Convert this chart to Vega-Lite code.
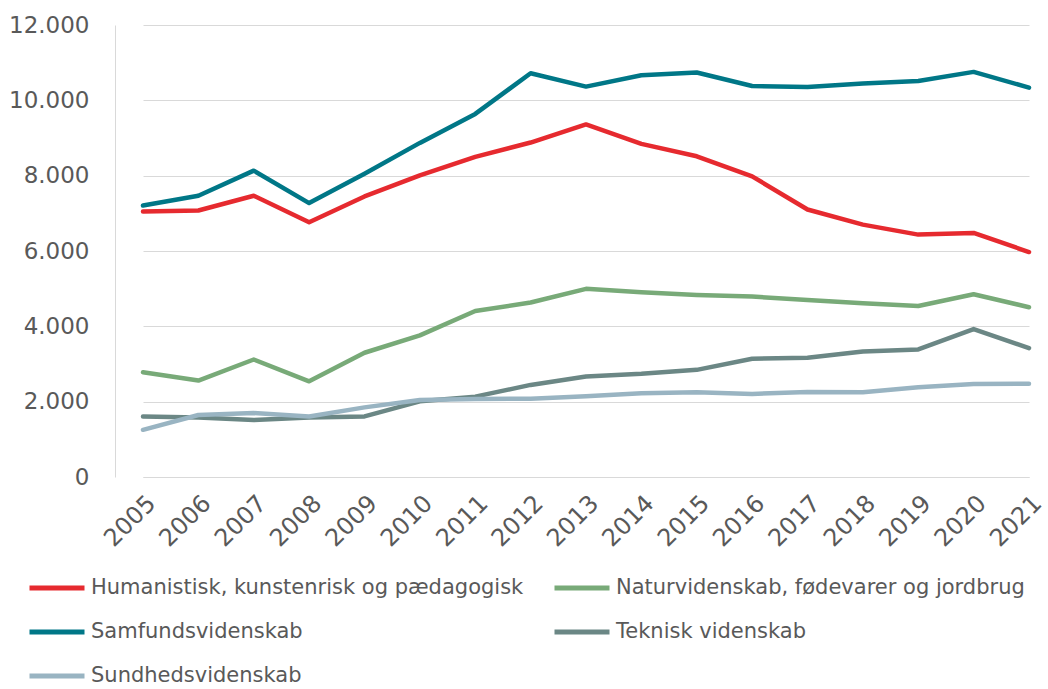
{
  "$schema": "https://vega.github.io/schema/vega-lite/v6.json",
  "width": 933,
  "height": 452,
  "autosize": {"type": "none"},
  "padding": {"left": 115, "top": 25, "right": 0, "bottom": 212},
  "background": "white",
  "datasets": {
    "d": [
      {"year": "2005", "felt": "Humanistisk, kunstenrisk og pædagogisk", "antal": 7048},
      {"year": "2006", "felt": "Humanistisk, kunstenrisk og pædagogisk", "antal": 7075},
      {"year": "2007", "felt": "Humanistisk, kunstenrisk og pædagogisk", "antal": 7467},
      {"year": "2008", "felt": "Humanistisk, kunstenrisk og pædagogisk", "antal": 6765},
      {"year": "2009", "felt": "Humanistisk, kunstenrisk og pædagogisk", "antal": 7448},
      {"year": "2010", "felt": "Humanistisk, kunstenrisk og pædagogisk", "antal": 8008},
      {"year": "2011", "felt": "Humanistisk, kunstenrisk og pædagogisk", "antal": 8498},
      {"year": "2012", "felt": "Humanistisk, kunstenrisk og pædagogisk", "antal": 8880},
      {"year": "2013", "felt": "Humanistisk, kunstenrisk og pædagogisk", "antal": 9360},
      {"year": "2014", "felt": "Humanistisk, kunstenrisk og pædagogisk", "antal": 8845},
      {"year": "2015", "felt": "Humanistisk, kunstenrisk og pædagogisk", "antal": 8515},
      {"year": "2016", "felt": "Humanistisk, kunstenrisk og pædagogisk", "antal": 7982},
      {"year": "2017", "felt": "Humanistisk, kunstenrisk og pædagogisk", "antal": 7101},
      {"year": "2018", "felt": "Humanistisk, kunstenrisk og pædagogisk", "antal": 6701},
      {"year": "2019", "felt": "Humanistisk, kunstenrisk og pædagogisk", "antal": 6435},
      {"year": "2020", "felt": "Humanistisk, kunstenrisk og pædagogisk", "antal": 6480},
      {"year": "2021", "felt": "Humanistisk, kunstenrisk og pædagogisk", "antal": 5973},
      {"year": "2005", "felt": "Naturvidenskab, fødevarer og jordbrug", "antal": 2781},
      {"year": "2006", "felt": "Naturvidenskab, fødevarer og jordbrug", "antal": 2560},
      {"year": "2007", "felt": "Naturvidenskab, fødevarer og jordbrug", "antal": 3120},
      {"year": "2008", "felt": "Naturvidenskab, fødevarer og jordbrug", "antal": 2541},
      {"year": "2009", "felt": "Naturvidenskab, fødevarer og jordbrug", "antal": 3299},
      {"year": "2010", "felt": "Naturvidenskab, fødevarer og jordbrug", "antal": 3760},
      {"year": "2011", "felt": "Naturvidenskab, fødevarer og jordbrug", "antal": 4408},
      {"year": "2012", "felt": "Naturvidenskab, fødevarer og jordbrug", "antal": 4632},
      {"year": "2013", "felt": "Naturvidenskab, fødevarer og jordbrug", "antal": 4995},
      {"year": "2014", "felt": "Naturvidenskab, fødevarer og jordbrug", "antal": 4907},
      {"year": "2015", "felt": "Naturvidenskab, fødevarer og jordbrug", "antal": 4835},
      {"year": "2016", "felt": "Naturvidenskab, fødevarer og jordbrug", "antal": 4790},
      {"year": "2017", "felt": "Naturvidenskab, fødevarer og jordbrug", "antal": 4700},
      {"year": "2018", "felt": "Naturvidenskab, fødevarer og jordbrug", "antal": 4613},
      {"year": "2019", "felt": "Naturvidenskab, fødevarer og jordbrug", "antal": 4541},
      {"year": "2020", "felt": "Naturvidenskab, fødevarer og jordbrug", "antal": 4853},
      {"year": "2021", "felt": "Naturvidenskab, fødevarer og jordbrug", "antal": 4507},
      {"year": "2005", "felt": "Samfundsvidenskab", "antal": 7208},
      {"year": "2006", "felt": "Samfundsvidenskab", "antal": 7467},
      {"year": "2007", "felt": "Samfundsvidenskab", "antal": 8133},
      {"year": "2008", "felt": "Samfundsvidenskab", "antal": 7272},
      {"year": "2009", "felt": "Samfundsvidenskab", "antal": 8053},
      {"year": "2010", "felt": "Samfundsvidenskab", "antal": 8870},
      {"year": "2011", "felt": "Samfundsvidenskab", "antal": 9640},
      {"year": "2012", "felt": "Samfundsvidenskab", "antal": 10720},
      {"year": "2013", "felt": "Samfundsvidenskab", "antal": 10365},
      {"year": "2014", "felt": "Samfundsvidenskab", "antal": 10667},
      {"year": "2015", "felt": "Samfundsvidenskab", "antal": 10739},
      {"year": "2016", "felt": "Samfundsvidenskab", "antal": 10381},
      {"year": "2017", "felt": "Samfundsvidenskab", "antal": 10355},
      {"year": "2018", "felt": "Samfundsvidenskab", "antal": 10445},
      {"year": "2019", "felt": "Samfundsvidenskab", "antal": 10515},
      {"year": "2020", "felt": "Samfundsvidenskab", "antal": 10755},
      {"year": "2021", "felt": "Samfundsvidenskab", "antal": 10338},
      {"year": "2005", "felt": "Teknisk videnskab", "antal": 1608},
      {"year": "2006", "felt": "Teknisk videnskab", "antal": 1582},
      {"year": "2007", "felt": "Teknisk videnskab", "antal": 1512},
      {"year": "2008", "felt": "Teknisk videnskab", "antal": 1582},
      {"year": "2009", "felt": "Teknisk videnskab", "antal": 1608},
      {"year": "2010", "felt": "Teknisk videnskab", "antal": 2008},
      {"year": "2011", "felt": "Teknisk videnskab", "antal": 2133},
      {"year": "2012", "felt": "Teknisk videnskab", "antal": 2445},
      {"year": "2013", "felt": "Teknisk videnskab", "antal": 2667},
      {"year": "2014", "felt": "Teknisk videnskab", "antal": 2739},
      {"year": "2015", "felt": "Teknisk videnskab", "antal": 2845},
      {"year": "2016", "felt": "Teknisk videnskab", "antal": 3139},
      {"year": "2017", "felt": "Teknisk videnskab", "antal": 3165},
      {"year": "2018", "felt": "Teknisk videnskab", "antal": 3333},
      {"year": "2019", "felt": "Teknisk videnskab", "antal": 3387},
      {"year": "2020", "felt": "Teknisk videnskab", "antal": 3928},
      {"year": "2021", "felt": "Teknisk videnskab", "antal": 3422},
      {"year": "2005", "felt": "Sundhedsvidenskab", "antal": 1253},
      {"year": "2006", "felt": "Sundhedsvidenskab", "antal": 1645},
      {"year": "2007", "felt": "Sundhedsvidenskab", "antal": 1698},
      {"year": "2008", "felt": "Sundhedsvidenskab", "antal": 1608},
      {"year": "2009", "felt": "Sundhedsvidenskab", "antal": 1848},
      {"year": "2010", "felt": "Sundhedsvidenskab", "antal": 2045},
      {"year": "2011", "felt": "Sundhedsvidenskab", "antal": 2072},
      {"year": "2012", "felt": "Sundhedsvidenskab", "antal": 2080},
      {"year": "2013", "felt": "Sundhedsvidenskab", "antal": 2142},
      {"year": "2014", "felt": "Sundhedsvidenskab", "antal": 2222},
      {"year": "2015", "felt": "Sundhedsvidenskab", "antal": 2248},
      {"year": "2016", "felt": "Sundhedsvidenskab", "antal": 2205},
      {"year": "2017", "felt": "Sundhedsvidenskab", "antal": 2255},
      {"year": "2018", "felt": "Sundhedsvidenskab", "antal": 2250},
      {"year": "2019", "felt": "Sundhedsvidenskab", "antal": 2382},
      {"year": "2020", "felt": "Sundhedsvidenskab", "antal": 2472},
      {"year": "2021", "felt": "Sundhedsvidenskab", "antal": 2475}
    ]
  },
  "data": {"name": "d"},
  "mark": {"type": "line", "strokeWidth": 4.5, "strokeJoin": "round", "strokeCap": "round"},
  "encoding": {
    "x": {
      "field": "year", "type": "ordinal",
      "scale": {"type": "point", "range": [28, 914], "padding": 0},
      "axis": {
        "title": null, "labelAngle": -45, "ticks": false, "domainColor": "#d9d9d9",
        "labelFontSize": 24, "labelColor": "#595959", "labelPadding": 14, "grid": false
      }
    },
    "y": {
      "field": "antal", "type": "quantitative",
      "scale": {"domain": [0, 12000], "nice": false},
      "axis": {
        "title": null, "values": [0, 2000, 4000, 6000, 8000, 10000, 12000],
        "labelExpr": "replace(format(datum.value, ','), ',', '.')",
        "ticks": false, "domain": true, "domainColor": "#d9d9d9",
        "gridColor": "#d9d9d9", "labelFontSize": 23, "labelColor": "#595959", "labelPadding": 26
      }
    },
    "color": {
      "field": "felt", "type": "nominal",
      "sort": ["Humanistisk, kunstenrisk og pædagogisk", "Naturvidenskab, fødevarer og jordbrug", "Samfundsvidenskab", "Teknisk videnskab", "Sundhedsvidenskab"],
      "scale": {
        "domain": ["Humanistisk, kunstenrisk og pædagogisk", "Naturvidenskab, fødevarer og jordbrug", "Samfundsvidenskab", "Teknisk videnskab", "Sundhedsvidenskab"],
        "range": ["#e62a2f", "#78aa78", "#007787", "#6b8785", "#99b4c2"]
      },
      "legend": {
        "title": null, "orient": "none", "legendX": -88, "legendY": 533,
        "columns": 2, "direction": "horizontal",
        "symbolType": "stroke", "symbolSize": 3025, "symbolStrokeWidth": 5,
        "labelFontSize": 21, "labelColor": "#595959", "labelOffset": 4,
        "labelLimit": 600, "columnPadding": 20, "rowPadding": 4
      }
    }
  },
  "config": {
    "font": "DejaVu Sans",
    "view": {"stroke": null}
  }
}
